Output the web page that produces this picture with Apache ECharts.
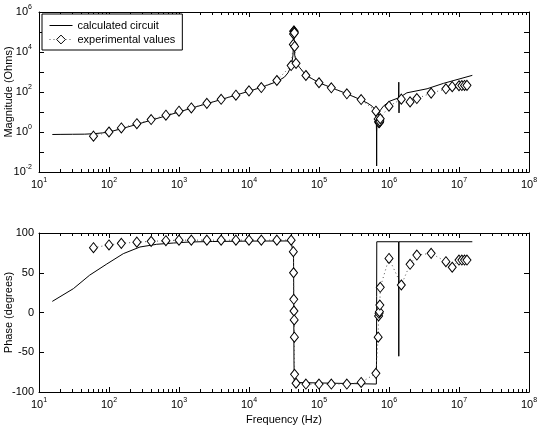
<!DOCTYPE html>
<html>
<head>
<meta charset="utf-8">
<script src="https://cdn.jsdelivr.net/npm/echarts@6/dist/echarts.min.js"></script>
<style>
html, body { margin: 0; padding: 0; background: #fff; }
#main { width: 537px; height: 430px; }
</style>
</head>
<body>
<div id="main"></div>
<script>
// experimental values (Hz, Ohms, degrees)
var expFreq = [60, 100, 150, 250, 400, 650, 1000, 1500, 2500, 4000, 6500, 10000, 15000, 25000, 40000,
  43000, 43300, 43600, 43900, 44200, 44500, 44800, 47000, 65000, 100000, 150000, 250000, 400000, 650000,
  700000, 710000, 720000, 730000, 740000, 750000, 1000000, 1500000, 2000000, 2500000, 4000000, 6500000,
  8000000, 10000000, 11000000, 12000000, 13000000];
var expMag = [0.62, 1.0, 1.6, 2.6, 4.2, 6.9, 11, 16, 27, 43, 69, 114, 167, 376, 2100,
  24000, 80000, 110000, 112000, 100000, 90000, 19000, 2700, 668, 290, 162, 81, 42, 11,
  4.5, 3.3, 2.9, 3.0, 3.5, 4.6, 19.5, 44, 32, 47, 88, 144,
  185, 205, 210, 212, 215];
var expPhase = [81.5, 85, 87, 88.5, 89.5, 90.3, 91, 91, 91, 91, 91, 91, 91, 91, 91,
  76.5, 50, 16.6, 1.9, -9.4, -31, -77.7, -89, -90, -90, -90, -90, -88, -76.5,
  -31, -4.4, -1, 1, 9.4, 31.7, 68, 34.6, 60.6, 72.3, 74.4, 63.9,
  56.9, 66, 66, 66, 66];

// calculated circuit, magnitude curve
var calcMagFreq = [15.5, 20, 30, 45, 60, 80, 100, 150, 250, 400, 650, 1000, 1500, 2500, 4000, 6500,
  10000, 15000, 25000, 32000, 36000, 39000, 41000, 42500, 43300, 43700, 44100, 45000, 47000, 52000,
  65000, 100000, 150000, 250000, 400000, 500000, 580000, 630000, 650000, 658000, 663000, 666000,
  669000, 675000, 690000, 750000, 830000, 1030000, 1370000, 1380000, 1390000, 1400000, 1800000,
  3500000, 6000000, 15500000];
var calcMag = [0.75, 0.76, 0.77, 0.78, 0.82, 0.9, 1.0, 1.45, 2.4, 3.9, 6.4, 10, 15.5, 26, 42, 70,
  110, 170, 330, 550, 900, 1600, 3000, 7000, 30000, 130000, 30000, 7000, 3300, 1800,
  700, 290, 165, 82, 40, 27, 19, 13, 9, 4, 1, 0.02,
  1, 3, 6.2, 12, 19.5, 35, 51, 310, 9, 52, 91,
  145, 270, 680];

// calculated circuit, phase curve
var calcPhFreq = [15.5, 31, 53, 93, 160, 277, 480, 830, 1450, 3000, 10000, 40000, 42500, 43300,
  43600, 43900, 44300, 45000, 660000, 663000, 666000, 669000, 1370000, 1380000, 1390000, 15500000];
var calcPhase = [14, 30, 47, 61, 74, 82.4, 85.8, 87.4, 88.7, 89.3, 89.8, 90, 89, 70,
  10, -60, -88, -90, -90, -60, 20, 89, 89, -55, 89, 89];

var xMajor = [10, 100, 1e3, 1e4, 1e5, 1e6, 1e7, 1e8];
var magTicks = [0.01, 0.1, 1, 10, 100, 1e3, 1e4, 1e5, 1e6];
var magLabels = [0.01, 1, 100, 1e4, 1e6];
var phaseTicks = [-100, -50, 0, 50, 100];

var xMinor = [];
for (var d = 0; d < xMajor.length - 1; d++) {
  for (var m = 2; m <= 9; m++) xMinor.push(xMajor[d] * m);
}

var font = 'Liberation Sans, Arial, sans-serif';
var rich = {
  b: { fontSize: 11, fontFamily: font, color: '#000', lineHeight: 16 },
  s: { fontSize: 7, fontFamily: font, color: '#000', lineHeight: 6, verticalAlign: 'top' }
};
function pow10(v) {
  return '{b|10}{s|' + Math.round(Math.log10(v)) + '}';
}

function logX(grid, pos, minor, labels) {
  return {
    type: 'log', gridIndex: grid, position: pos, min: 10, max: 1e8,
    axisLine: { show: !minor, onZero: false, lineStyle: { color: '#000', width: 1 } },
    axisTick: { show: true, inside: true, length: minor ? 3 : 5,
      customValues: minor ? xMinor : xMajor, lineStyle: { color: '#000', width: 1 } },
    axisLabel: labels ? { show: true, customValues: xMajor, formatter: pow10, rich: rich, margin: 5 } : { show: false },
    splitLine: { show: false }
  };
}

var xAxes = [
  logX(0, 'bottom', false, true), logX(0, 'bottom', true, false),
  logX(0, 'top', false, false), logX(0, 'top', true, false),
  logX(1, 'bottom', false, true), logX(1, 'bottom', true, false),
  logX(1, 'top', false, false), logX(1, 'top', true, false)
];
xAxes[4].name = 'Frequency (Hz)';
xAxes[4].nameLocation = 'middle';
xAxes[4].nameGap = 22;
xAxes[4].nameMoveOverlap = false;
xAxes[4].nameTextStyle = { fontSize: 11, fontFamily: font, color: '#000' };

function magY(pos, labels) {
  return {
    type: 'log', gridIndex: 0, position: pos, min: 0.01, max: 1e6,
    axisLine: { show: true, onZero: false, lineStyle: { color: '#000', width: 1 } },
    axisTick: { show: true, inside: true, length: 5, customValues: magTicks, lineStyle: { color: '#000' } },
    axisLabel: labels ? { show: true, customValues: magLabels, formatter: pow10, rich: rich, margin: 7 } : { show: false },
    splitLine: { show: false }
  };
}
function phaseY(pos, labels) {
  return {
    type: 'value', gridIndex: 1, position: pos, min: -100, max: 100, interval: 50,
    axisLine: { show: true, onZero: false, lineStyle: { color: '#000', width: 1 } },
    axisTick: { show: true, inside: true, length: 5, customValues: phaseTicks, lineStyle: { color: '#000' } },
    axisLabel: labels ? { show: true, customValues: phaseTicks, fontSize: 11, fontFamily: font, color: '#000', margin: 5 } : { show: false },
    splitLine: { show: false }
  };
}
var yAxes = [magY('left', true), magY('right', false), phaseY('left', true), phaseY('right', false)];
yAxes[0].name = 'Magnitude (Ohms)';
yAxes[2].name = 'Phase (degrees)';
[0, 2].forEach(function (i) {
  yAxes[i].nameLocation = 'middle';
  yAxes[i].nameRotate = 90;
  yAxes[i].nameGap = 25;
  yAxes[i].nameMoveOverlap = false;
  yAxes[i].nameTextStyle = { fontSize: 11, fontFamily: font, color: '#000' };
});

function zip(a, b) { return a.map(function (v, i) { return [v, b[i]]; }); }

var calcStyle = { type: 'line', symbol: 'none', lineStyle: { color: '#000', width: 1 },
  itemStyle: { color: '#000' }, z: 2 };
var expStyle = { type: 'line', symbol: 'diamond', symbolSize: [8, 10], showSymbol: true,
  lineStyle: { color: '#555', width: 1, type: [1, 3] },
  itemStyle: { color: '#fff', borderColor: '#000', borderWidth: 1 }, z: 3 };

var option = {
  animation: false,
  backgroundColor: '#fff',
  textStyle: { fontFamily: font },
  grid: [
    { left: 39, top: 12, width: 490, height: 160, outerBoundsMode: 'none', containLabel: false },
    { left: 39, top: 233, width: 490, height: 159, outerBoundsMode: 'none', containLabel: false }
  ],
  legend: {
    data: [
      { name: 'calculated circuit', itemStyle: { opacity: 0 } },
      { name: 'experimental values' }
    ],
    orient: 'vertical', left: 42, top: 14,
    padding: [6, 7, 5, 7], itemGap: 3, itemWidth: 23, itemHeight: 11,
    lineStyle: { width: 1 },
    itemStyle: { borderWidth: 1 },
    backgroundColor: '#fff', borderColor: '#000', borderWidth: 1,
    textStyle: { fontSize: 11, fontFamily: font, color: '#000' }
  },
  xAxis: xAxes,
  yAxis: yAxes,
  series: [
    Object.assign({ name: 'calculated circuit', xAxisIndex: 0, yAxisIndex: 0, data: zip(calcMagFreq, calcMag) }, calcStyle),
    Object.assign({ name: 'experimental values', xAxisIndex: 0, yAxisIndex: 0, data: zip(expFreq, expMag) }, expStyle),
    Object.assign({ name: 'calculated circuit', xAxisIndex: 4, yAxisIndex: 2, data: zip(calcPhFreq, calcPhase) }, calcStyle),
    Object.assign({ name: 'experimental values', xAxisIndex: 4, yAxisIndex: 2, data: zip(expFreq, expPhase) }, expStyle)
  ]
};

var chart = echarts.init(document.getElementById('main'));
chart.setOption(option);
</script>
</body>
</html>
